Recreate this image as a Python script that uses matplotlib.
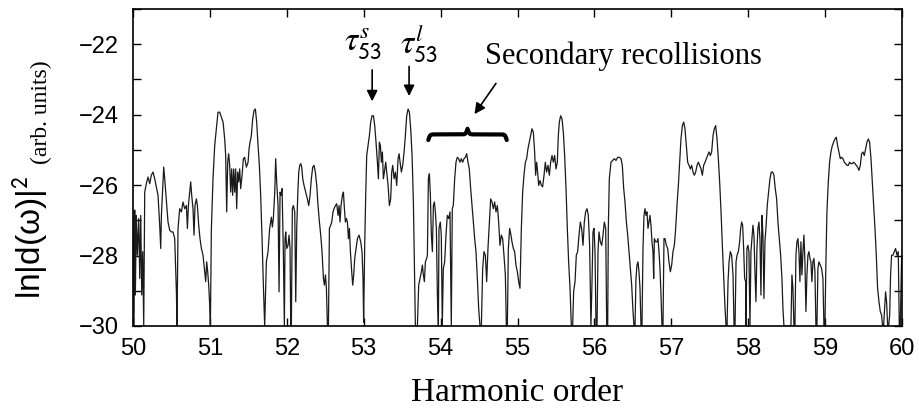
import numpy as np
import matplotlib
matplotlib.use("Agg")
import matplotlib.pyplot as plt
from matplotlib.ticker import MultipleLocator

plt.rcParams['font.family'] = ['Liberation Sans', 'DejaVu Sans']
plt.rcParams['mathtext.fontset'] = 'stix'

# harmonic order / ln|d(w)|^2 in five chunks
x_50_52 = [50.000, 50.013, 50.022, 50.030, 50.043, 50.056, 50.074, 50.087, 50.100, 50.113,
           50.126, 50.139, 50.152, 50.173, 50.195, 50.217, 50.238, 50.260, 50.282, 50.303,
           50.325, 50.347, 50.360, 50.369, 50.382, 50.399, 50.412, 50.425, 50.442, 50.455,
           50.477, 50.499, 50.520, 50.542, 50.564, 50.572, 50.585, 50.607, 50.629, 50.650,
           50.672, 50.694, 50.707, 50.720, 50.737, 50.750, 50.763, 50.780, 50.793, 50.806,
           50.824, 50.837, 50.854, 50.871, 50.889, 50.910, 50.932, 50.945, 50.958, 50.971,
           50.984, 50.997, 51.006, 51.019, 51.040, 51.062, 51.084, 51.105, 51.127, 51.149,
           51.171, 51.192, 51.205, 51.218, 51.231, 51.244, 51.257, 51.270, 51.283, 51.296,
           51.309, 51.322, 51.335, 51.348, 51.361, 51.374, 51.387, 51.400, 51.418, 51.435,
           51.452, 51.474, 51.496, 51.509, 51.522, 51.539, 51.556, 51.574, 51.591, 51.608,
           51.626, 51.643, 51.660, 51.678, 51.695, 51.712, 51.734, 51.756, 51.777, 51.799,
           51.812, 51.825, 51.843, 51.855, 51.868, 51.886, 51.899, 51.912, 51.925, 51.938,
           51.955, 51.968]
y_50_52 = [-26.71, -30, -26.71, -29.12, -26.86, -27.99, -26.95, -28.65, -26.86, -29.12,
           -27.89, -30, -26.20, -25.96, -25.77, -25.96, -25.72, -25.63, -25.82, -26.05,
           -26.29, -27.14, -27.80, -26.86, -26.29, -25.49, -25.82, -26.20, -26.67, -27.05,
           -27.28, -27.33, -27.33, -27.52, -29.03, -30, -27.23, -26.67, -26.76, -26.48,
           -26.67, -26.58, -27.23, -26.58, -26.20, -25.91, -26.29, -26.67, -27.42, -26.58,
           -26.39, -26.58, -27.14, -27.52, -27.80, -27.99, -28.46, -28.74, -28.18, -28.46,
           -28.84, -29.40, -30, -27.23, -25.82, -24.88, -24.40, -23.93, -23.93, -24.07,
           -24.21, -24.69, -25.16, -26.76, -25.35, -25.11, -25.44, -26.20, -25.54, -26.29,
           -25.54, -26.20, -25.54, -26.67, -25.63, -25.91, -25.54, -26.10, -25.72, -25.25,
           -25.21, -25.49, -25.35, -24.97, -24.78, -24.59, -24.12, -23.88, -23.84, -24.21,
           -24.88, -25.44, -26.29, -27.52, -28.84, -30, -28.18, -27.89, -27.23, -26.91,
           -27.19, -26.95, -26.20, -25.25, -25.91, -26.58, -29.03, -26.20, -26.29, -26.10,
           -27.89, -30]

x_52_54 = [51.977, 51.986, 51.999, 52.016, 52.029, 52.042, 52.051, 52.059, 52.072, 52.085,
           52.103, 52.116, 52.129, 52.142, 52.155, 52.168, 52.181, 52.194, 52.207, 52.224,
           52.246, 52.267, 52.285, 52.302, 52.319, 52.337, 52.354, 52.371, 52.389, 52.406,
           52.424, 52.441, 52.458, 52.476, 52.489, 52.502, 52.515, 52.528, 52.541, 52.554,
           52.571, 52.584, 52.601, 52.614, 52.632, 52.649, 52.666, 52.679, 52.692, 52.705,
           52.723, 52.736, 52.749, 52.762, 52.775, 52.788, 52.801, 52.814, 52.827, 52.844,
           52.857, 52.870, 52.883, 52.900, 52.918, 52.939, 52.961, 52.978, 52.991, 52.999,
           53.013, 53.026, 53.039, 53.056, 53.074, 53.091, 53.108, 53.126, 53.143, 53.160,
           53.178, 53.191, 53.204, 53.217, 53.230, 53.243, 53.256, 53.269, 53.286, 53.299,
           53.317, 53.334, 53.351, 53.364, 53.377, 53.395, 53.412, 53.429, 53.447, 53.460,
           53.473, 53.490, 53.507, 53.525, 53.542, 53.559, 53.577, 53.594, 53.611, 53.629,
           53.646, 53.659, 53.672, 53.698, 53.715, 53.733, 53.750, 53.763, 53.776, 53.789,
           53.802, 53.819, 53.828, 53.841, 53.854, 53.867, 53.880, 53.893, 53.906, 53.919,
           53.932, 53.945, 53.958, 53.971]
y_52_54 = [-27.52, -27.33, -27.80, -27.71, -27.42, -27.80, -30, -30, -26.67, -26.58,
           -26.76, -29.31, -27.23, -26.29, -25.63, -25.44, -25.39, -25.49, -25.82, -26.01,
           -26.20, -26.39, -26.58, -26.29, -25.82, -25.49, -25.44, -25.63, -26.01, -26.58,
           -27.05, -27.42, -27.89, -28.65, -28.84, -28.55, -28.93, -30, -30, -27.23,
           -27.14, -27.05, -26.76, -26.67, -26.58, -26.53, -26.86, -26.58, -27.05, -26.58,
           -26.29, -26.20, -26.67, -27.05, -26.95, -27.05, -27.52, -27.23, -27.89, -28.46,
           -28.84, -28.55, -28.08, -27.80, -27.52, -27.42, -27.61, -27.89, -28.65, -29.90,
           -27.71, -26.29, -25.16, -24.88, -24.59, -24.21, -24.03, -24.03, -24.31, -24.78,
           -25.35, -25.82, -24.78, -24.88, -25.35, -25.06, -25.82, -25.63, -25.35, -25.63,
           -26.01, -26.58, -26.39, -25.63, -25.44, -25.82, -25.63, -26.01, -25.25, -25.11,
           -25.35, -25.63, -25.44, -25.06, -24.59, -24.03, -23.84, -23.93, -24.40, -25.16,
           -26.48, -28.18, -30, -30, -28.84, -28.65, -28.46, -28.27, -28.55, -28.74,
           -28.18, -28.08, -27.99, -25.82, -25.68, -26.29, -27.42, -27.89, -26.58, -26.48,
           -26.76, -27.23, -29.12, -30]

x_54_56 = [53.979, 53.996, 54.009, 54.022, 54.035, 54.053, 54.070, 54.087, 54.105, 54.122,
           54.139, 54.152, 54.165, 54.183, 54.200, 54.217, 54.235, 54.252, 54.269, 54.287,
           54.304, 54.321, 54.339, 54.356, 54.373, 54.391, 54.408, 54.426, 54.443, 54.460,
           54.478, 54.495, 54.512, 54.530, 54.547, 54.564, 54.582, 54.599, 54.616, 54.634,
           54.651, 54.668, 54.686, 54.703, 54.720, 54.738, 54.755, 54.772, 54.790, 54.807,
           54.824, 54.842, 54.855, 54.868, 54.881, 54.898, 54.915, 54.928, 54.946, 54.963,
           54.980, 54.998, 55.015, 55.032, 55.050, 55.067, 55.084, 55.102, 55.119, 55.136,
           55.154, 55.171, 55.188, 55.206, 55.223, 55.236, 55.249, 55.262, 55.275, 55.293,
           55.310, 55.327, 55.345, 55.362, 55.379, 55.397, 55.414, 55.431, 55.449, 55.466,
           55.483, 55.501, 55.518, 55.531, 55.544, 55.561, 55.579, 55.596, 55.613, 55.631,
           55.648, 55.665, 55.683, 55.700, 55.717, 55.730, 55.748, 55.765, 55.782, 55.800,
           55.817, 55.834, 55.852, 55.869, 55.886, 55.904, 55.921, 55.938, 55.955]
y_54_56 = [-27.23, -27.05, -27.42, -30, -28.37, -28.18, -27.42, -26.86, -26.95, -26.76,
           -30, -26.67, -26.58, -25.82, -25.35, -25.21, -25.25, -25.35, -25.25, -25.35,
           -25.25, -25.21, -25.11, -25.35, -25.54, -26.10, -26.58, -27.05, -27.52, -27.89,
           -28.65, -29.50, -30, -30, -28.37, -27.89, -27.99, -28.74, -27.80, -27.05,
           -26.39, -26.48, -26.67, -26.48, -26.76, -26.58, -27.05, -27.71, -27.42, -27.52,
           -27.99, -28.55, -30, -30, -27.80, -27.23, -27.42, -27.61, -27.80, -27.89,
           -28.27, -28.46, -28.74, -28.93, -27.23, -26.20, -25.72, -25.35, -25.25, -24.97,
           -24.78, -24.59, -24.40, -24.50, -25.06, -25.72, -25.35, -25.63, -26.01, -25.87,
           -26.01, -26.05, -25.72, -25.35, -25.63, -25.44, -25.72, -25.35, -25.16, -25.35,
           -25.16, -25.54, -25.35, -24.59, -24.21, -24.03, -24.12, -24.50, -25.16, -26.10,
           -27.23, -28.18, -28.93, -30, -30, -29.03, -28.74, -27.99, -27.89, -27.42,
           -27.05, -27.23, -27.71, -27.05, -26.76, -26.67, -26.86, -27.71, -30]

x_56_58 = [55.969, 55.982, 55.995, 56.008, 56.021, 56.034, 56.047, 56.060, 56.077, 56.095,
           56.112, 56.129, 56.147, 56.160, 56.173, 56.181, 56.194, 56.216, 56.238, 56.259,
           56.281, 56.303, 56.324, 56.346, 56.363, 56.381, 56.398, 56.416, 56.433, 56.450,
           56.468, 56.485, 56.502, 56.515, 56.528, 56.541, 56.554, 56.567, 56.580, 56.593,
           56.606, 56.619, 56.632, 56.645, 56.658, 56.671, 56.684, 56.697, 56.710, 56.723,
           56.736, 56.749, 56.762, 56.771, 56.780, 56.797, 56.814, 56.827, 56.840, 56.853,
           56.866, 56.879, 56.892, 56.905, 56.918, 56.936, 56.953, 56.970, 56.988, 57.005,
           57.022, 57.040, 57.057, 57.074, 57.092, 57.109, 57.126, 57.144, 57.161, 57.178,
           57.196, 57.213, 57.231, 57.248, 57.265, 57.283, 57.300, 57.317, 57.335, 57.352,
           57.369, 57.387, 57.404, 57.421, 57.439, 57.456, 57.473, 57.491, 57.508, 57.525,
           57.543, 57.560, 57.577, 57.595, 57.612, 57.629, 57.647, 57.664, 57.681, 57.699,
           57.712, 57.725, 57.738, 57.751, 57.768, 57.785, 57.803, 57.816, 57.829, 57.842,
           57.855, 57.872, 57.889, 57.902, 57.915, 57.928, 57.941, 57.954, 57.967]
y_56_58 = [-28.74, -27.33, -27.23, -27.89, -30, -30, -27.89, -27.33, -27.61, -27.71,
           -27.42, -27.05, -27.23, -30, -30, -27.23, -25.82, -25.35, -25.30, -25.25,
           -25.30, -25.21, -25.21, -25.25, -25.44, -26.10, -26.48, -27.05, -27.42, -27.89,
           -28.37, -28.84, -29.59, -30, -30, -28.65, -28.27, -28.18, -28.46, -28.93,
           -30, -30, -27.80, -26.86, -26.67, -26.86, -26.76, -27.23, -27.05, -26.86,
           -27.14, -27.61, -27.89, -28.65, -27.52, -27.61, -27.61, -27.52, -27.89, -28.37,
           -29.12, -30, -30, -27.52, -27.52, -27.71, -27.80, -28.18, -28.46, -28.27,
           -27.89, -27.71, -27.23, -26.58, -26.01, -25.35, -24.69, -24.31, -24.21, -24.40,
           -24.88, -25.35, -25.44, -25.54, -25.44, -25.63, -25.72, -25.63, -25.44, -25.35,
           -25.44, -25.54, -25.72, -25.44, -25.35, -25.25, -25.16, -25.06, -25.16, -25.06,
           -24.59, -24.40, -24.31, -24.69, -25.25, -25.91, -26.76, -27.71, -28.55, -29.50,
           -30, -30, -28.74, -28.18, -27.89, -27.99, -28.55, -30, -30, -28.18,
           -27.99, -27.89, -27.61, -27.23, -27.05, -27.14, -27.80, -28.65, -28.74]

x_58_60 = [57.971, 57.984, 57.997, 58.010, 58.023, 58.036, 58.049, 58.062, 58.075, 58.088,
           58.101, 58.114, 58.127, 58.140, 58.153, 58.166, 58.179, 58.192, 58.205, 58.218,
           58.231, 58.248, 58.266, 58.283, 58.300, 58.318, 58.335, 58.352, 58.370, 58.387,
           58.405, 58.422, 58.439, 58.452, 58.465, 58.556, 58.569, 58.582, 58.595, 58.608,
           58.621, 58.634, 58.647, 58.660, 58.673, 58.686, 58.699, 58.712, 58.725, 58.738,
           58.751, 58.764, 58.777, 58.790, 58.803, 58.816, 58.829, 58.842, 58.855, 58.868,
           58.881, 58.894, 58.907, 58.920, 58.938, 58.955, 58.972, 58.985, 58.998, 59.011,
           59.024, 59.042, 59.059, 59.076, 59.094, 59.111, 59.128, 59.146, 59.163, 59.180,
           59.198, 59.215, 59.232, 59.250, 59.267, 59.285, 59.302, 59.319, 59.337, 59.354,
           59.371, 59.389, 59.406, 59.423, 59.441, 59.458, 59.475, 59.493, 59.510, 59.527,
           59.545, 59.562, 59.579, 59.597, 59.614, 59.631, 59.649, 59.666, 59.683, 59.701,
           59.718, 59.735, 59.748, 59.761, 59.774, 59.787, 59.800, 59.814, 59.827, 59.840,
           59.852, 59.865, 59.883, 59.900, 59.917, 59.935, 59.952, 59.965, 59.978, 59.996,
           60.005]
y_58_60 = [-30, -27.80, -27.71, -27.89, -30, -27.89, -27.52, -27.14, -27.42, -28.46,
           -29.31, -27.80, -27.23, -27.05, -27.52, -29.12, -26.86, -27.42, -29.22, -27.61,
           -27.23, -26.58, -26.20, -25.82, -25.63, -25.63, -25.72, -26.10, -26.39, -27.05,
           -27.52, -27.99, -28.65, -29.50, -30, -30, -28.55, -28.93, -30, -30,
           -27.99, -27.61, -27.52, -27.89, -28.74, -27.61, -28.55, -27.89, -27.42, -28.18,
           -29.59, -28.55, -27.99, -27.89, -28.08, -28.18, -28.74, -28.18, -28.08, -28.46,
           -30, -30, -28.37, -28.18, -28.27, -28.37, -28.65, -30, -30, -28.18,
           -26.76, -25.91, -25.35, -25.06, -24.88, -24.78, -24.69, -24.64, -24.88, -25.06,
           -25.25, -25.21, -25.25, -25.35, -25.39, -25.44, -25.44, -25.35, -25.39, -25.39,
           -25.35, -25.39, -25.44, -25.49, -25.58, -25.44, -25.11, -25.06, -25.16, -24.97,
           -24.78, -24.69, -24.78, -25.25, -25.91, -26.58, -27.23, -27.99, -28.93, -29.31,
           -29.59, -29.69, -30, -30, -29.50, -29.03, -29.31, -30, -30, -29.69,
           -28.55, -27.99, -27.99, -27.89, -27.80, -27.99, -27.89, -30, -30, -27.99,
           -28.08]

harmonic = np.concatenate([x_50_52, x_52_54, x_54_56, x_56_58, x_58_60])
ln_d2 = np.concatenate([y_50_52, y_52_54, y_54_56, y_56_58, y_58_60])


def brace(x0, x1, y0, h, beta=90.0):
    # horizontal curly brace, cusp pointing up
    half = np.linspace(x0, (x0 + x1) / 2, 200)
    yh = 1 / (1 + np.exp(-beta * (half - half[0]))) + 1 / (1 + np.exp(-beta * (half - half[-1])))
    xs = np.concatenate([half, (x0 + x1) - half[::-1][1:]])
    ys = np.concatenate([yh, yh[::-1][1:]])
    return xs, y0 + (ys - 0.5) * h


fig = plt.figure(figsize=(9.2, 4.13), dpi=100)
ax = fig.add_axes([0.1446, 0.2107, 0.8358, 0.7675])

ax.plot(harmonic, ln_d2, color='#1a1a1a', lw=0.9)

ax.set_xlim(50, 60)
ax.set_ylim(-30, -21)
ax.xaxis.set_major_locator(MultipleLocator(1))
ax.yaxis.set_major_locator(MultipleLocator(2))
ax.yaxis.set_minor_locator(MultipleLocator(1))
ax.tick_params(which='both', direction='in', top=True, right=True, length=6, width=1,
               labelsize=17)
ax.tick_params(axis='y', pad=10)
ax.tick_params(axis='x', pad=9)
for s in ax.spines.values():
    s.set_linewidth(1.2)

ax.set_xlabel('Harmonic order', family='Liberation Serif', fontsize=24, labelpad=12)

# y label: big sans part plus small serif part
fig.text(0.045, 0.728, '(arb. units)', rotation=90, family='Liberation Serif', fontsize=17,
         ha='center', va='center')
fig.text(0.033, 0.426, 'ln|d(ω)|$^{\\mathsf{2}}$', rotation=90, fontsize=24,
         ha='center', va='center')

# labels over the two main peaks
ax.text(52.99, -22.0, r'$\tau^{s}_{\mathsf{53}}$', fontsize=24, ha='center', va='center')
ax.text(53.72, -22.0, r'$\tau^{l}_{\mathsf{53}}$', fontsize=24, ha='center', va='center')
ax.annotate('', xy=(53.11, -23.7), xytext=(53.11, -22.65),
            arrowprops=dict(arrowstyle='-|>', color='black', lw=1.2, mutation_scale=16))
ax.annotate('', xy=(53.59, -23.55), xytext=(53.59, -22.55),
            arrowprops=dict(arrowstyle='-|>', color='black', lw=1.2, mutation_scale=16))

ax.text(54.58, -22.55, 'Secondary recollisions', family='Liberation Serif', fontsize=22,
        ha='left', va='baseline')
ax.annotate('', xy=(54.42, -24.05), xytext=(54.74, -23.05),
            arrowprops=dict(arrowstyle='-|>', color='black', lw=1.2, mutation_scale=16))

bx, by = brace(53.84, 54.86, -24.72, 0.32)
ax.plot(bx, by, color='black', lw=3, solid_capstyle='round')

fig.savefig('out.png', dpi=100)
